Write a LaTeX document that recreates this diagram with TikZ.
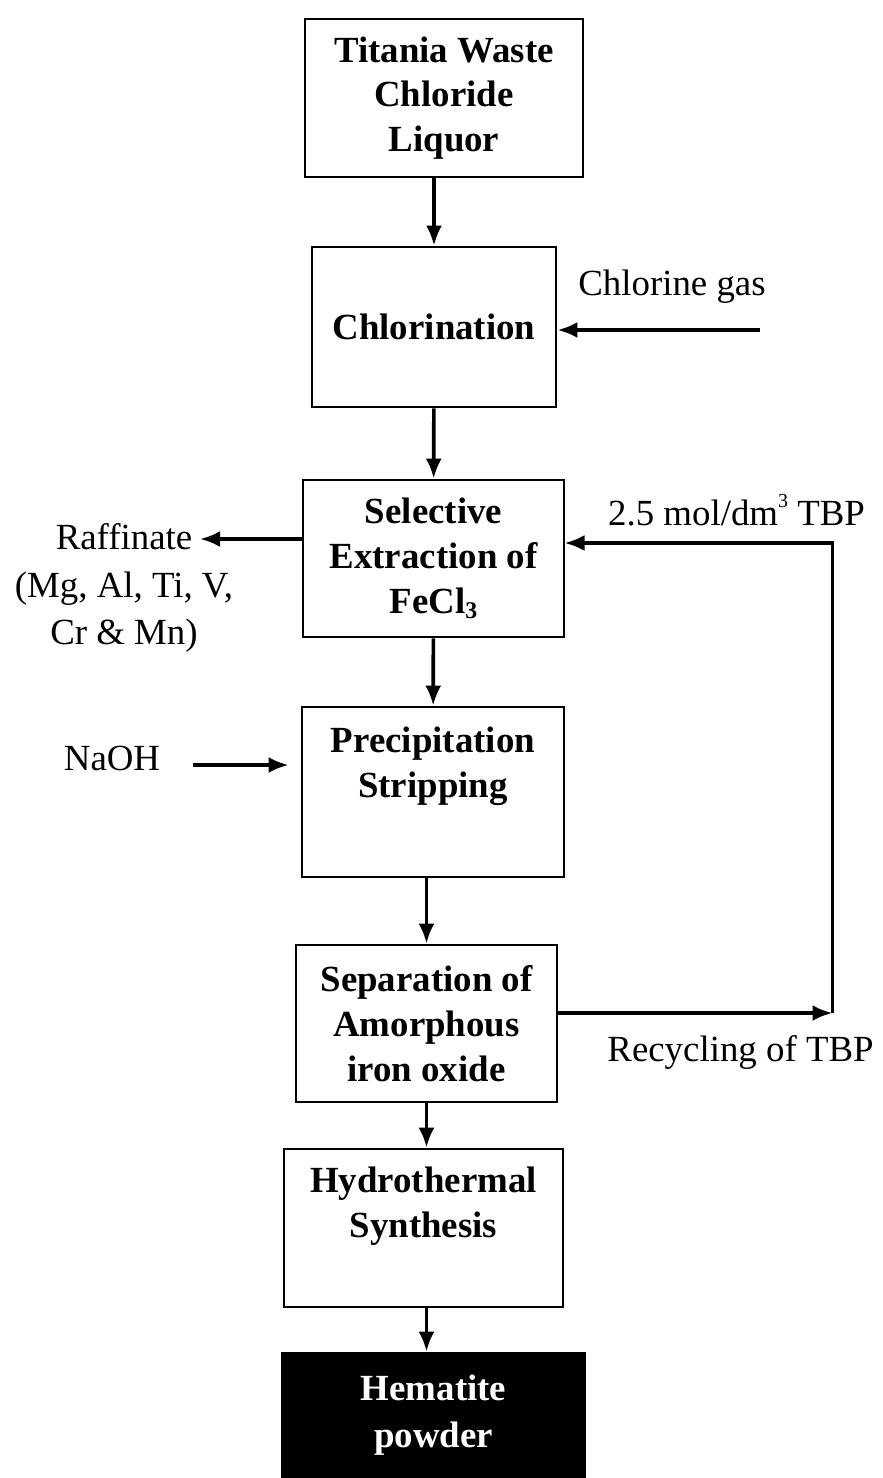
\documentclass[tikz,border=0pt]{standalone}
\usepackage{fontspec}
\setmainfont{Liberation Serif}
\usetikzlibrary{arrows.meta}

\begin{document}
\begin{tikzpicture}[x=1bp, y=1bp,
  block/.style={rectangle, draw, line width=2.8bp, align=center, inner sep=0pt, font=\fontsize{37}{45}\selectfont\bfseries},
  boxtext/.style={align=center, inner sep=0pt, font=\fontsize{37}{45}\selectfont\bfseries},
  note/.style={align=center, inner sep=2bp, font=\fontsize{37}{48}\selectfont},
  line/.style={draw, line width=3.6bp, -{Latex[length=20bp,width=16bp]}}
]
\useasboundingbox (0,0) rectangle (882,-1478);
\node [block, minimum width=278bp, minimum height=158bp] (liquor) at (444,-98) {Titania Waste\\ Chloride\\ Liquor};
\node [block, below of=liquor, node distance=229bp, xshift=-10bp, minimum width=244bp, minimum height=160bp] (chlor) {Chlorination};
\node [block, below of=chlor, node distance=231.5bp, xshift=-0.5bp, minimum width=261bp, minimum height=157bp] (extract) {Selective\\ Extraction of\\ FeCl\raisebox{-0.35ex}{\fontsize{24}{24}\selectfont 3}};
\node [block, below of=extract, node distance=233.5bp, xshift=-0.5bp, minimum width=262bp, minimum height=170bp,
  label={[boxtext, yshift=25.5bp]center:Precipitation\\ Stripping}] (precip) {};
\node [block, below of=precip, node distance=231.5bp, xshift=-6.5bp, minimum width=261bp, minimum height=157bp] (separ) {Separation of\\ Amorphous\\ iron oxide};
\node [block, below of=separ, node distance=204.5bp, xshift=-3bp, minimum width=279bp, minimum height=158bp,
  label={[boxtext, yshift=21.5bp]center:Hydrothermal\\ Synthesis}] (hydro) {};
\node [block, below of=hydro, node distance=187.5bp, xshift=10bp, minimum width=303bp, minimum height=125bp, fill=black, text=white, font=\fontsize{37}{47}\selectfont\bfseries] (hematite) {Hematite\\ powder};

% side streams
\node [note, right of=chlor, node distance=238bp, yshift=40bp] (clgas) {Chlorine gas};
\node [note, left of=extract, node distance=309.5bp, yshift=-29.5bp] (raff) {Raffinate\\ (Mg, Al, Ti, V,\\ Cr \& Mn)};
\node [note, right of=extract, node distance=303bp, yshift=48.5bp] (tbp) {2.5 mol/dm\raisebox{1.1ex}{\fontsize{20}{20}\selectfont 3} TBP};
\node [note, left of=precip, node distance=321bp, yshift=34bp] (naoh) {NaOH};
\node [note, right of=separ, node distance=314bp, yshift=-28.5bp] (recyc) {Recycling of TBP};

\coordinate [right of=chlor, node distance=326bp, yshift=-3bp] (clsrc);
\coordinate [left of=extract, node distance=233.5bp, yshift=19.5bp] (rafftip);
\coordinate [left of=precip, node distance=240bp, yshift=27bp] (naohout);
\coordinate [right of=separ, node distance=406bp, yshift=10.5bp] (turn);
\coordinate [right of=extract, node distance=131bp, yshift=15.5bp] (tbpin);

\path [line] (liquor.south -| chlor.north) -- (chlor.north);
\path [line] (chlor) -- (extract);
\path [line] (extract) -- (precip);
\path [line] (precip.south -| separ.north) -- (separ.north);
\path [line] (separ.south) -- (separ.south |- hydro.north);
\path [line] (hydro.south -| separ.south) -- (separ.south |- hematite.north);

\path [line] (clsrc) -- (clsrc -| chlor.east);
\path [line] (rafftip -| extract.west) -- (rafftip);
\path [line, shorten >=12bp] (naohout) -- (naohout -| precip.west);
\path [line] (turn -| separ.east) -- (turn);
\path [line] (turn) |- (tbpin);
\end{tikzpicture}
\end{document}
